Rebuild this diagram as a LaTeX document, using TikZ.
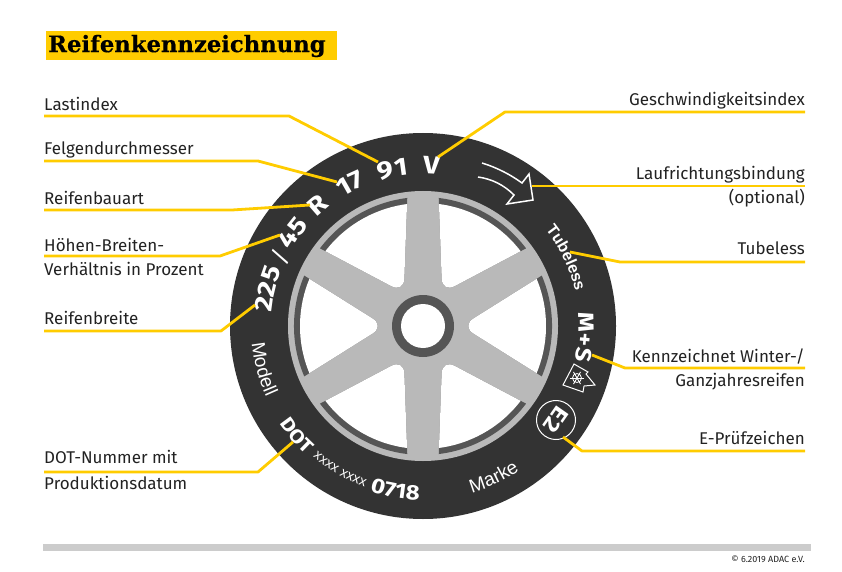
\documentclass[tikz,border=0pt]{standalone}
\usepackage{fontspec}
\setmainfont{Fira Sans}
\newfontfamily\tirebold{Fira Sans}[BoldFeatures={FakeStretch=1.15}]
\newfontfamily\tirefont{Liberation Sans}
\newfontfamily\titlefont{DejaVu Serif}[BoldFeatures={FakeBold=0.4}]
\usetikzlibrary{decorations.text}
\definecolor{adac}{HTML}{FFCC00}
\definecolor{tire}{HTML}{333333}
\definecolor{rimgray}{HTML}{B9B9B9}
\definecolor{rimdark}{HTML}{555555}
\definecolor{barcol}{HTML}{CCCCCC}
\definecolor{ink}{HTML}{222222}
\tikzset{
  leader/.style={draw=adac,line width=2.8pt,line join=round},
  lbl/.style={inner sep=0pt,font=\fontsize{17}{24}\selectfont,text=ink,text height=12pt,text depth=3pt},
  lbll/.style={lbl,anchor=west,align=left},
  lblr/.style={lbl,anchor=east,align=right},
}
% centre angle, half span, radius, font, text: clockwise (tops outward)
\newcommand\tiretop[5]{\path[decorate,decoration={text along path,text color=white,text align=center,text={|#4|#5}}]
  ({#1+#2}:#3) arc[start angle={#1+#2},end angle={#1-#2},radius=#3pt];}
% counter-clockwise (tops inward)
\newcommand\tirelow[5]{\path[decorate,decoration={text along path,text color=white,text align=center,text={|#4|#5}}]
  ({#1-#2}:#3) arc[start angle={#1-#2},end angle={#1+#2},radius=#3pt];}
\begin{document}
\begin{tikzpicture}[x=1pt,y=1pt]
\useasboundingbox (0,0) rectangle (842,571);
% title
\fill[adac] (46,511) rectangle (337,540);
\node[inner sep=0pt,anchor=west,text=black,font=\titlefont\bfseries\fontsize{22.7}{26}\selectfont] (title) at (48,525) {Reifenkennzeichnung};
% wheel
\begin{scope}[shift={(423,245)}]
\fill[tire] (0,0) circle[radius=193];
\fill[rimgray] (0,0) circle[radius=135];
\foreach \a in {0,60,120,180,240,300}{
  \begin{scope}[rotate=\a]
    \clip[rounded corners=14pt] (60:38.4) -- (84.8:160.7) -- (35.2:160.7) -- cycle;
    \fill[rimdark] (0,0) circle[radius=129];
    \fill[white] (0,0) circle[radius=123];
  \end{scope}
}
\fill[rimdark] (0,0) circle[radius=31];
\fill[white] (0,0) circle[radius=22];
% tyre text
\tiretop{101}{30}{152}{\tirebold\bfseries\fontsize{25}{25}\selectfont}{91}
\tiretop{117}{30}{152}{\tirebold\bfseries\fontsize{25}{25}\selectfont}{17}
\tiretop{131}{30}{152}{\tirebold\bfseries\fontsize{25}{25}\selectfont}{R}
\tiretop{87}{30}{152}{\tirebold\bfseries\fontsize{25}{25}\selectfont}{V}
\tiretop{144.4}{30}{152}{\tirebold\bfseries\fontsize{25}{25}\selectfont}{45}
\tiretop{154}{30}{149}{\tirefont\fontsize{27}{27}\selectfont}{/}
\tiretop{166.5}{30}{152}{\tirebold\bfseries\fontsize{25}{25}\selectfont}{225}
\tiretop{25.5}{40}{156}{\tirefont\bfseries\fontsize{16}{16}\selectfont}{Tubeless}
\tiretop{-4}{30}{156}{\tirebold\bfseries\fontsize{22}{22}\selectfont}{M+S}
\tirelow{-65}{30}{174}{\tirefont\fontsize{19}{19}\selectfont}{Marke}
\tirelow{-99.5}{30}{174}{\tirebold\bfseries\fontsize{21}{21}\selectfont}{0718}
\tirelow{-120}{30}{171}{\tirefont\fontsize{14}{14}\selectfont}{xxxx xxxx}
\tirelow{-139}{30}{174}{\tirebold\bfseries\fontsize{19}{19}\selectfont}{DOT}
\tirelow{-165}{30}{172}{\tirefont\fontsize{19}{19}\selectfont}{Modell}
\end{scope}
% direction arrow
\draw[white,line width=1.5pt,line join=miter]
  (482,408) .. controls (498,403) and (511,396) .. (522,388) -- (529,397) -- (533,371) -- (507,367) -- (514,376)
  .. controls (504,386) and (492,392) .. (478,394);
% E2 mark
\node[circle,draw=white,line width=1pt,minimum size=39pt,inner sep=0pt,text=white,rotate=-125,font=\tirebold\bfseries\fontsize{22}{22}\selectfont] (etwo) at (556,151) {E2};
% snow mark
\draw[white,line width=1pt,line join=miter] (574,207) -- (563,186) -- (583,179) -- (584,185) -- (595,186) -- (586,197) -- (588,199) -- cycle;
\coordinate (snow) at (577,193);
\foreach \a in {0,60,120}{\draw[white,line width=.9pt] ([shift={(\a:7)}]snow) -- ([shift={(\a+180:7)}]snow);}
\draw[white,line width=.8pt] (snow) circle[radius=4.5];
% leaders
\coordinate (L1) at (44,455); \coordinate (L1k) at (289,455); \coordinate (L1e) at (378,409);
\coordinate (L2) at (44,410); \coordinate (L2k) at (258,410); \coordinate (L2e) at (337,389);
\coordinate (L3) at (44,361); \coordinate (L3k) at (232,361); \coordinate (L3e) at (310,366);
\coordinate (L4) at (44,315); \coordinate (L4k) at (220,315); \coordinate (L4e) at (280,336);
\coordinate (L5) at (44,240); \coordinate (L5k) at (221,240); \coordinate (L5e) at (255,266);
\coordinate (L6) at (44,99);  \coordinate (L6k) at (258,99);  \coordinate (L6e) at (293,129);
\coordinate (R1) at (805,459); \coordinate (R1k) at (505,459); \coordinate (R1e) at (438,414);
\coordinate (R2) at (805,385); \coordinate (R2e) at (532,385);
\coordinate (R3) at (805,309); \coordinate (R3k) at (620,309); \coordinate (R3e) at (570,319);
\coordinate (R4) at (805,203); \coordinate (R4k) at (625,203); \coordinate (R4e) at (592,216);
\coordinate (R5) at (805,120); \coordinate (R5k) at (582,120); \coordinate (R5e) at (563,134);
\foreach \n in {L1,L2,L3,L4,L5,L6,R1,R3,R4,R5}{\draw[leader] (\n) -- (\n k) -- (\n e);}
\draw[leader] (R2) -- (R2e);
% labels
\node[lbll] (n1) at (44,465) {Lastindex};
\node[lbll] (n2) at (44,421) {Felgendurchmesser};
\node[lbll] (n3) at (44,371) {Reifenbauart};
\node[lbll] (n4) at (44,324) {Höhen-Breiten-};
\node[lbll] (n4b) at (44,300) {Verhältnis in Prozent};
\node[lbll] (n5) at (44,251) {Reifenbreite};
\node[lbll] (n6) at (44,112) {DOT-Nummer mit};
\node[lbll] (n6b) at (44,86) {Produktionsdatum};
\node[lblr] (m1) at (805,470) {Geschwindigkeitsindex};
\node[lblr] (m2) at (805,396) {Laufrichtungsbindung};
\node[lblr] (m2b) at (805,372) {(optional)};
\node[lblr] (m3) at (805,321) {Tubeless};
\node[lblr] (m4) at (805,213) {Kennzeichnet Winter-/};
\node[lblr] (m4b) at (805,189) {Ganzjahresreifen};
\node[lblr] (m5) at (805,131) {E-Prüfzeichen};
% footer
\fill[barcol] (43,20) rectangle (811,27);
\node[inner sep=0pt,anchor=east,text=ink,font=\fontsize{9}{10}\selectfont] (copy) at (805,12) {© 6.2019 ADAC e.V.};
\end{tikzpicture}
\end{document}
